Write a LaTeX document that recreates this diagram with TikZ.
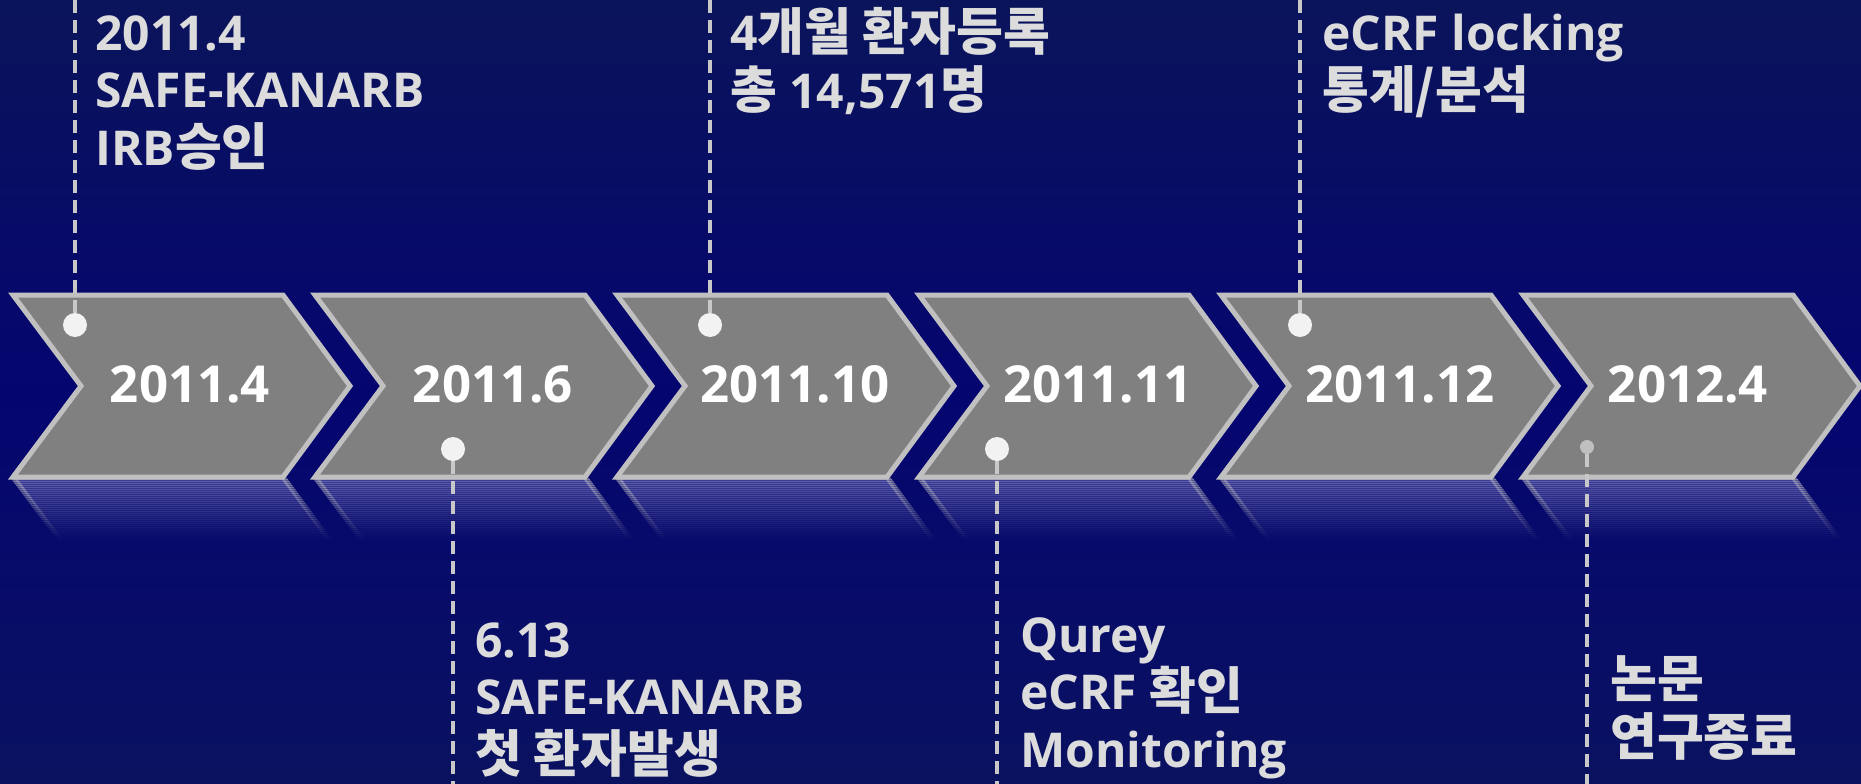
\documentclass[tikz,border=0pt]{standalone}
\usepackage{fontspec}
\setmainfont{Open Sans}
\newfontfamily\krfont{Noto Sans CJK KR}[Scale=1.06]
\newcommand\kor[1]{{\krfont #1}}
\definecolor{bgtop}{RGB}{10,20,90}
\definecolor{bgmid}{RGB}{5,5,112}
\definecolor{bgbot}{RGB}{10,18,96}
\definecolor{chevfill}{RGB}{128,128,128}
\definecolor{reflfill}{RGB}{140,140,205}
\definecolor{chevline}{RGB}{192,192,192}
\definecolor{txtgray}{RGB}{220,220,220}
\definecolor{dotcol}{RGB}{242,242,242}
\definecolor{dashcol}{RGB}{200,200,200}
\tikzset{
  chev/.style={fill=chevfill,draw=chevline,line width=5pt,line join=miter},
  refl/.style={fill=reflfill,draw=chevline,line width=5pt},
  datetxt/.style={text=white,font={\fontsize{51}{60}\selectfont\bfseries},inner sep=0pt},
  lbl/.style={text=txtgray,font={\fontsize{48}{57.5}\selectfont\bfseries},align=left,inner sep=0pt},
  tdot/.style={circle,fill=dotcol,minimum size=24pt,inner sep=0pt},
  tdotsmall/.style={circle,fill=chevline,minimum size=14pt,inner sep=0pt},
  dashln/.style={draw=dashcol,line width=3.5pt,dash pattern=on 13pt off 7pt}
}
\begin{document}
\begin{tikzpicture}[x=1pt,y=-1pt]
\useasboundingbox (0,0) rectangle (1861,784);
% background
\shade[top color=bgtop,bottom color=bgbot,middle color=bgmid] (0,0) rectangle (1861,784);
% reflections
\foreach \k in {0,...,31}{
  \pgfmathsetmacro{\op}{0.42*(1-\k/32)^1.3}
  \begin{scope}
    \clip (0,{477+2*\k}) rectangle (1861,{479.3+2*\k});
    \foreach \L in {13,315,617,919,1221,1523}{
      \path[refl,opacity=\op] (\L,477) -- ({\L+270},477) -- ({\L+337},568) -- ({\L+270},659) -- (\L,659) -- ({\L+68},568) -- cycle;
    }
  \end{scope}
}
% chevrons
\foreach \L in {13,315,617,919,1221,1523}{
  \path[chev] (\L,295) -- ({\L+270},295) -- ({\L+337},386) -- ({\L+270},477) -- (\L,477) -- ({\L+68},386) -- cycle;
}
% dates
\node[datetxt,anchor=base] (c1) at (190,402) {2011.4};
\node[datetxt,anchor=base] (c2) at (493,402) {2011.6};
\node[datetxt,anchor=base] (c3) at (795,402) {2011.10};
\node[datetxt,anchor=base] (c4) at (1098,402) {2011.11};
\node[datetxt,anchor=base] (c5) at (1400,402) {2011.12};
\node[datetxt,anchor=base] (c6) at (1688,402) {2012.4};
% dots
\node[tdot] (d1) at (75,325) {};
\node[tdot] (d2) at (453,449) {};
\node[tdot] (d3) at (710,325) {};
\node[tdot] (d4) at (997,449) {};
\node[tdot] (d5) at (1300,325) {};
\node[tdotsmall] (d6) at (1587,447) {};
\coordinate (e1) at (75,0);
\coordinate (e2) at (453,784);
\coordinate (e3) at (710,0);
\coordinate (e4) at (997,784);
\coordinate (e5) at (1300,0);
\coordinate (e6) at (1587,784);
\draw[dashln] (d1) -- (e1);
\draw[dashln] (d2) -- (e2);
\draw[dashln] (d3) -- (e3);
\draw[dashln] (d4) -- (e4);
\draw[dashln] (d5) -- (e5);
\draw[dashln] (d6) -- (e6);
% labels (base anchor = baseline of the last line)
\node[lbl,anchor=base west] (l1) at (95,165) {2011.4\\SAFE-KANARB\\IRB\kor{승인}};
\node[lbl,anchor=base west] (l3) at (730,108) {4\kor{개월 환자등록}\\\kor{총} 14,571\kor{명}};
\node[lbl,anchor=base west] (l5) at (1322,108) {eCRF locking\\\kor{통계/분석}};
\node[lbl,anchor=base west] (l2) at (475,772) {6.13\\SAFE-KANARB\\\kor{첫 환자발생}};
\node[lbl,anchor=base west] (l4) at (1020,767) {Qurey\\eCRF \kor{확인}\\Monitoring};
\node[lbl,anchor=base west] (l6) at (1610,755) {\kor{논문}\\\kor{연구종료}};
\end{tikzpicture}
\end{document}
